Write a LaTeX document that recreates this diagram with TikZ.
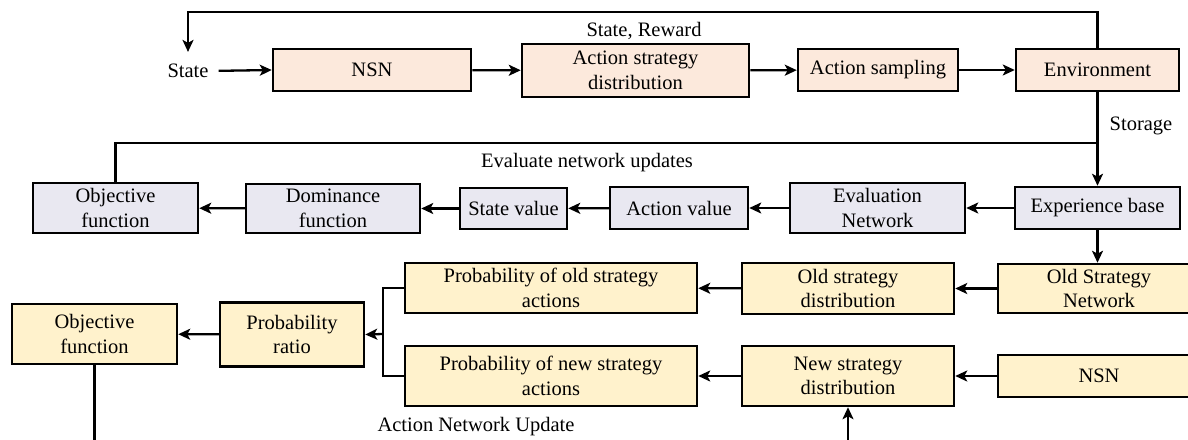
\documentclass[tikz,border=0pt]{standalone}
\usepackage{fontspec}
\setmainfont{Liberation Serif}
\newfontfamily\tnr{Liberation Serif}
\usetikzlibrary{arrows.meta}
\definecolor{peach}{HTML}{FCE9DC}
\definecolor{lav}{HTML}{E9E8F1}
\definecolor{ylw}{HTML}{FFF2CC}
\tikzset{
  bx/.style={draw=black, line width=2.5pt, inner sep=0pt, align=center,
    font=\tnr\fontsize{20.5}{24.5}\selectfont},
  pb/.style={bx, fill=peach},
  gb/.style={bx, fill=lav},
  yb/.style={bx, fill=ylw},
  lbl/.style={inner sep=0pt, font=\tnr\fontsize{20.5}{24.5}\selectfont},
  ln/.style={line width=2.3pt},
  arr/.style={ln, -{Stealth[length=12pt,width=11pt,inset=3pt]}}
}
\begin{document}
\begin{tikzpicture}[x=1pt,y=-1pt]
\useasboundingbox (0,0) rectangle (1188,439);
\clip (0,0) rectangle (1188,439);
% Row 1
\node[lbl] (state) at (188,71) {State};
\node[pb, minimum width=198pt, minimum height=42pt] (nsn) at (372,70) {NSN};
\node[pb, minimum width=227pt, minimum height=53pt] (asd) at (635.5,70.5) {Action strategy\\distribution};
\node[pb, minimum width=160pt, minimum height=42pt] (as) at (878,70) {Action sampling};
\node[pb, minimum width=163pt, minimum height=42pt] (env) at (1097.5,70) {Environment};
\node[lbl] (sr) at (644,31) {State, Reward};
\node[lbl] (sto) at (1141,126) {Storage};
% Row 2
\node[gb, minimum width=165pt, minimum height=50pt] (objg) at (115.5,208) {Objective\\function};
\node[gb, minimum width=174pt, minimum height=49pt] (dom) at (333,208.5) {Dominance\\function};
\node[gb, minimum width=107pt, minimum height=41pt] (sv) at (513.5,208.5) {State value};
\node[gb, minimum width=138pt, minimum height=42pt] (av) at (679,208) {Action value};
\node[gb, minimum width=175pt, minimum height=50pt] (evn) at (877.5,208) {Evaluation\\Network};
\node[gb, minimum width=165pt, minimum height=42pt] (exp) at (1097.5,208) {Experience base};
\node[lbl] (enu) at (587,163) {Evaluate network updates};
% Row 3
\node[yb, minimum width=202pt, minimum height=49pt] (osn) at (1099,288.5) {Old Strategy\\Network};
\node[yb, minimum width=212pt, minimum height=51pt] (osd) at (848,288.5) {Old strategy\\distribution};
\node[yb, minimum width=292pt, minimum height=50pt] (po) at (551,288) {Probability of old strategy\\actions};
\node[yb, minimum width=292pt, minimum height=60pt] (pn) at (551,376) {Probability of new strategy\\actions};
\node[yb, minimum width=212pt, minimum height=60pt] (nsd) at (848,376) {New strategy\\distribution};
\node[yb, minimum width=202pt, minimum height=42pt] (nsn2) at (1099,376) {NSN};
\node[yb, minimum width=144pt, minimum height=64pt] (pr) at (292,334.5) {Probability\\ratio};
\node[yb, minimum width=165pt, minimum height=60pt] (objy) at (94.5,334) {Objective\\function};
\node[lbl] (anu) at (476,427) {Action Network Update};
% coordinates
\coordinate (jn) at (1098,143);
\coordinate (br) at (383,334);
\coordinate (bot1) at (848,445);
\coordinate (bot2) at (94.5,445);
% Row 1 connectors
\draw[arr, shorten <=10pt] (state.east) -- (nsn.west);
\draw[arr] (nsn) -- (asd);
\draw[arr] (asd) -- (as);
\draw[arr] (as) -- (env);
\draw[arr, shorten >=12pt] (env.north) -- ++(0,-36) -| (state.north);
\draw[arr] (env.south) -- (exp.north);
\draw[ln] (objg.north) |- (jn);
% Row 2 connectors
\draw[arr] (exp) -- (evn);
\draw[arr] (evn) -- (av);
\draw[arr] (av) -- (sv);
\draw[arr] (sv) -- (dom);
\draw[arr] (dom) -- (objg);
\draw[arr] (exp.south) -- (osn.north -| exp.south);
% Row 3 connectors
\draw[arr] (osn.west) -- (osd.east);
\draw[arr] (osd) -- (po);
\draw[arr] (nsn2.west) -- (nsd.east);
\draw[arr] (nsd) -- (pn);
\draw[ln] (po.west) -| (br) |- (pn.west);
\draw[arr] (br) -- (pr.east);
\draw[arr] (pr) -- (objy);
\draw[arr] (bot1) -- (nsd.south);
\draw[ln] (objy.south) -- (bot2);
\end{tikzpicture}
\end{document}
